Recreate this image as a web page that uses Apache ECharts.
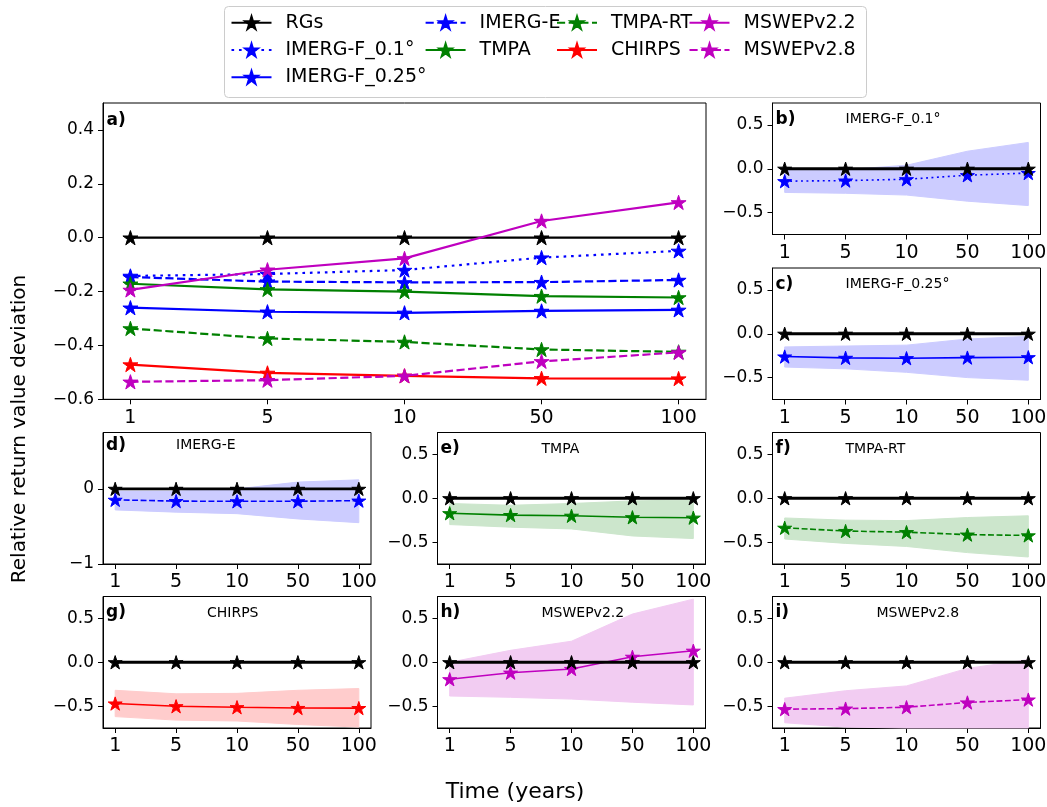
<!DOCTYPE html>
<html>
<head>
<meta charset="utf-8">
<script src="https://cdn.jsdelivr.net/npm/echarts@6/dist/echarts.min.js"></script>
<style>
  html, body { margin: 0; padding: 0; background: #fff; }
  #chart { width: 1047px; height: 807px; }
</style>
</head>
<body>
<div id="chart"></div>
<script>
// return periods on the x axis
const periods = ['1', '5', '10', '50', '100'];

// panel a) relative return value deviation per product
const rgs = [0, 0, 0, 0, 0];
const imergF01 = [-0.142, -0.135, -0.120, -0.074, -0.049];
const imergF025 = [-0.260, -0.275, -0.279, -0.272, -0.268];
const imergE = [-0.146, -0.163, -0.166, -0.165, -0.157];
const tmpa = [-0.171, -0.192, -0.200, -0.217, -0.222];
const tmpaRt = [-0.337, -0.374, -0.387, -0.415, -0.424];
const chirps = [-0.471, -0.502, -0.513, -0.522, -0.523];
const mswep22 = [-0.194, -0.119, -0.077, 0.062, 0.131];
const mswep28 = [-0.535, -0.529, -0.513, -0.459, -0.426];

// shaded ranges of panels b) - i)
const imergF01Lo = [-0.27, -0.28, -0.30, -0.37, -0.42];
const imergF01Hi = [-0.02, -0.01, 0.04, 0.20, 0.30];
const imergF025Lo = [-0.38, -0.40, -0.44, -0.50, -0.53];
const imergF025Hi = [-0.15, -0.14, -0.13, -0.06, -0.03];
const imergELo = [-0.28, -0.31, -0.33, -0.40, -0.45];
const imergEHi = [-0.03, -0.03, 0.00, 0.09, 0.12];
const tmpaLo = [-0.30, -0.33, -0.35, -0.43, -0.46];
const tmpaHi = [-0.06, -0.08, -0.06, -0.03, -0.02];
const tmpaRtLo = [-0.465, -0.515, -0.55, -0.62, -0.67];
const tmpaRtHi = [-0.225, -0.25, -0.255, -0.22, -0.20];
const chirpsLo = [-0.62, -0.66, -0.67, -0.71, -0.74];
const chirpsHi = [-0.32, -0.36, -0.355, -0.32, -0.30];
const mswep22Lo = [-0.385, -0.40, -0.42, -0.456, -0.487];
const mswep22Hi = [0.0, 0.136, 0.24, 0.55, 0.72];
const mswep28Lo = [-0.69, -0.74, -0.78, -0.82, -0.86];
const mswep28Hi = [-0.41, -0.325, -0.27, -0.07, 0.03];

// tick values
const mainTicks = [-0.6, -0.4, -0.2, 0, 0.2, 0.4];
const subTicks = [-0.5, 0, 0.5];
const imergETicks = [-1, 0];

const FONT = 'DejaVu Sans';
const STAR = 'path://M0,-1L0.2245,-0.309L0.951,-0.309L0.3633,0.118L0.588,0.809L0,0.382L-0.588,0.809L-0.3633,0.118L-0.951,-0.309L-0.2245,-0.309Z';
const BLACK = '#000000', BLUE = '#0000ff', GREEN = '#008000', RED = '#ff0000', MAGENTA = '#bf00bf';

function dash(kind, lw) {
  if (kind === 'dashed') return [3.7 * lw, 1.6 * lw];
  if (kind === 'dotted') return [1.2 * lw, 2.2 * lw];
  return 'solid';
}
function toXY(arr) { return arr.map((v, i) => [i, v]); }
function fmt1(v) {
  if (Math.abs(v) < 1e-9) return '0.0';
  return (v < 0 ? '\u2212' : '') + Math.abs(v).toFixed(1);
}
function fmt0(v) {
  if (Math.abs(v) < 1e-9) return '0';
  return (v < 0 ? '\u2212' : '') + Math.abs(v).toFixed(0);
}

const mainLines = [
  { name: 'RGs', values: rgs, color: BLACK, kind: 'solid' },
  { name: 'IMERG-F_0.1°', values: imergF01, color: BLUE, kind: 'dotted' },
  { name: 'IMERG-F_0.25°', values: imergF025, color: BLUE, kind: 'solid' },
  { name: 'IMERG-E', values: imergE, color: BLUE, kind: 'dashed' },
  { name: 'TMPA', values: tmpa, color: GREEN, kind: 'solid' },
  { name: 'TMPA-RT', values: tmpaRt, color: GREEN, kind: 'dashed' },
  { name: 'CHIRPS', values: chirps, color: RED, kind: 'solid' },
  { name: 'MSWEPv2.2', values: mswep22, color: MAGENTA, kind: 'solid' },
  { name: 'MSWEPv2.8', values: mswep28, color: MAGENTA, kind: 'dashed' }
];

const SUB_W = 268, SUB_H = 131.5;
const subPanels = [
  { label: 'b)', title: 'IMERG-F_0.1°', values: imergF01, lo: imergF01Lo, hi: imergF01Hi, color: BLUE, fill: '#ccccff', kind: 'dotted', left: 772.5, top: 103, dx: 73 },
  { label: 'c)', title: 'IMERG-F_0.25°', values: imergF025, lo: imergF025Lo, hi: imergF025Hi, color: BLUE, fill: '#ccccff', kind: 'solid', left: 772.5, top: 268, dx: 73 },
  { label: 'd)', title: 'IMERG-E', values: imergE, lo: imergELo, hi: imergEHi, color: BLUE, fill: '#ccccff', kind: 'dashed', left: 103, top: 432.5, dx: 73, yMin: -1, ticks: imergETicks, fmt: fmt0, dy: 13 },
  { label: 'e)', title: 'TMPA', values: tmpa, lo: tmpaLo, hi: tmpaHi, color: GREEN, fill: '#cce6cc', kind: 'solid', left: 437.5, top: 432.5, dx: 104 },
  { label: 'f)', title: 'TMPA-RT', values: tmpaRt, lo: tmpaRtLo, hi: tmpaRtHi, color: GREEN, fill: '#cce6cc', kind: 'dashed', left: 772.5, top: 432.5, dx: 73 },
  { label: 'g)', title: 'CHIRPS', values: chirps, lo: chirpsLo, hi: chirpsHi, color: RED, fill: '#ffcccc', kind: 'solid', left: 103, top: 596.5, dx: 104 },
  { label: 'h)', title: 'MSWEPv2.2', values: mswep22, lo: mswep22Lo, hi: mswep22Hi, color: MAGENTA, fill: '#f2ccf2', kind: 'solid', left: 437.5, top: 596.5, dx: 104 },
  { label: 'i)', title: 'MSWEPv2.8', values: mswep28, lo: mswep28Lo, hi: mswep28Hi, color: MAGENTA, fill: '#f2ccf2', kind: 'dashed', left: 772.5, top: 596.5, dx: 104 }
];

function makeX(gridIndex) {
  return {
    gridIndex: gridIndex, type: 'value', min: -0.2, max: 4.2,
    axisLine: { show: true, onZero: false, lineStyle: { color: '#000', width: 1 } },
    axisTick: { show: true, customValues: [0, 1, 2, 3, 4], length: 5, lineStyle: { color: '#000', width: 1 } },
    axisLabel: { customValues: [0, 1, 2, 3, 4], formatter: v => periods[Math.round(v)], color: '#000', fontFamily: FONT, fontSize: 19, margin: 9 },
    splitLine: { show: false }
  };
}
function makeY(gridIndex, min, max, ticks, fmt) {
  return {
    gridIndex: gridIndex, type: 'value', min: min, max: max,
    axisLine: { show: true, onZero: false, lineStyle: { color: '#000', width: 1 } },
    axisTick: { show: true, customValues: ticks, length: 5, lineStyle: { color: '#000', width: 1 } },
    axisLabel: { customValues: ticks, formatter: fmt, color: '#000', fontFamily: FONT, fontSize: 17, margin: 9 },
    splitLine: { show: false }
  };
}
function gridBox(left, top, width, height) {
  return { left: left, top: top, width: width, height: height, show: true, borderColor: '#000', borderWidth: 1, backgroundColor: 'transparent', containLabel: false, outerBoundsMode: 'none' };
}

const grids = [gridBox(103, 103, 603, 296.3)];
const xAxes = [makeX(0)];
const yAxes = [makeY(0, -0.6, 0.5, mainTicks, fmt1)];
const series = [];
const titles = [{ text: 'a)', left: 106.5, top: 112, padding: 0, textStyle: { fontFamily: FONT, fontSize: 17, fontWeight: 'bold', color: '#000', lineHeight: 17 } }];

mainLines.forEach((l, k) => {
  series.push({
    type: 'line', name: l.name, xAxisIndex: 0, yAxisIndex: 0,
    data: toXY(l.values),
    symbol: STAR, symbolSize: 15, symbolKeepAspect: true,
    lineStyle: { color: l.color, width: 2.2, type: dash(l.kind, 2.2) },
    itemStyle: { color: l.color, borderColor: l.color, borderWidth: 1 },
    z: 3 + k, animation: false
  });
});

subPanels.forEach((p, j) => {
  const gi = j + 1;
  grids.push(gridBox(p.left, p.top, SUB_W, SUB_H));
  xAxes.push(makeX(gi));
  yAxes.push(makeY(gi, p.yMin !== undefined ? p.yMin : -0.75, 0.75, p.ticks || subTicks, p.fmt || fmt1));
  const dy = p.dy || 16.5;
  titles.push({ text: p.label, left: p.left + 3, top: p.top + dy - 8.5, padding: 0, textStyle: { fontFamily: FONT, fontSize: 17, fontWeight: 'bold', color: '#000', lineHeight: 17 } });
  titles.push({ text: p.title, left: p.left + p.dx, top: p.top + dy - 7.5, padding: 0, textStyle: { fontFamily: FONT, fontSize: 14, fontWeight: 'normal', color: '#000', lineHeight: 15 } });

  // shaded range drawn as one polygon through the axis scales
  const lo = p.lo, hi = p.hi;
  series.push({
    type: 'custom', name: p.label + ' range', xAxisIndex: gi, yAxisIndex: gi,
    data: periods.map((_, i) => [i, lo[i], hi[i]]),
    encode: { x: 0, y: [1, 2] },
    renderItem: function (params, api) {
      if (params.dataIndex !== 0) return;
      const pts = [];
      for (let i = 0; i < periods.length; i++) pts.push(api.coord([i, hi[i]]));
      for (let i = periods.length - 1; i >= 0; i--) pts.push(api.coord([i, lo[i]]));
      const cs = params.coordSys;
      return {
        type: 'polygon',
        shape: { points: echarts.graphic.clipPointsByRect(pts, cs) },
        style: { fill: p.fill, stroke: p.fill, lineWidth: 1 }
      };
    },
    z: 1, silent: true, animation: false
  });
  series.push({
    type: 'line', name: p.label + ' ' + p.title, xAxisIndex: gi, yAxisIndex: gi,
    data: toXY(p.values),
    symbol: STAR, symbolSize: 14, symbolKeepAspect: true,
    lineStyle: { color: p.color, width: 1.6, type: dash(p.kind, 1.6) },
    itemStyle: { color: p.color, borderColor: p.color, borderWidth: 1 },
    z: 3, animation: false
  });
  series.push({
    type: 'line', name: p.label + ' RGs', xAxisIndex: gi, yAxisIndex: gi,
    data: toXY(rgs),
    symbol: STAR, symbolSize: 14, symbolKeepAspect: true,
    lineStyle: { color: BLACK, width: 2.8 },
    itemStyle: { color: BLACK, borderColor: BLACK, borderWidth: 1 },
    z: 4, animation: false
  });
});

// legend laid out in matplotlib's column order
const legendCols = [
  { names: ['RGs', 'IMERG-F_0.1°', 'IMERG-F_0.25°'], left: 230.5 },
  { names: ['IMERG-E', 'TMPA'], left: 424.6 },
  { names: ['TMPA-RT', 'CHIRPS'], left: 556 },
  { names: ['MSWEPv2.2', 'MSWEPv2.8'], left: 688.5 }
];
const legends = legendCols.map(c => ({
  data: c.names, orient: 'vertical', left: c.left, top: 11.7, padding: 0,
  itemWidth: 40, itemHeight: 16, itemGap: 5.3, selectedMode: false,
  textStyle: { fontFamily: FONT, fontSize: 19, color: '#000', lineHeight: 22, padding: [0, 0, 0, 9] }
}));

const chart = echarts.init(document.getElementById('chart'), null, { renderer: 'canvas' });
chart.setOption({
  backgroundColor: '#ffffff',
  animation: false,
  title: titles,
  legend: legends,
  grid: grids,
  xAxis: xAxes,
  yAxis: yAxes,
  series: series,
  graphic: [
    { type: 'rect', left: 224, top: 6, shape: { width: 642, height: 91, r: 4 }, style: { fill: '#fff', stroke: '#cccccc', lineWidth: 1 }, z: -10 },
    { type: 'text', x: 20, y: 429, rotation: Math.PI / 2, style: { text: 'Relative return value deviation', fontFamily: FONT, fontSize: 20, fill: '#000', align: 'center', verticalAlign: 'middle' } },
    { type: 'text', x: 515, y: 792, style: { text: 'Time (years)', fontFamily: FONT, fontSize: 22, fill: '#000', align: 'center', verticalAlign: 'middle' } }
  ]
});
</script>
</body>
</html>
